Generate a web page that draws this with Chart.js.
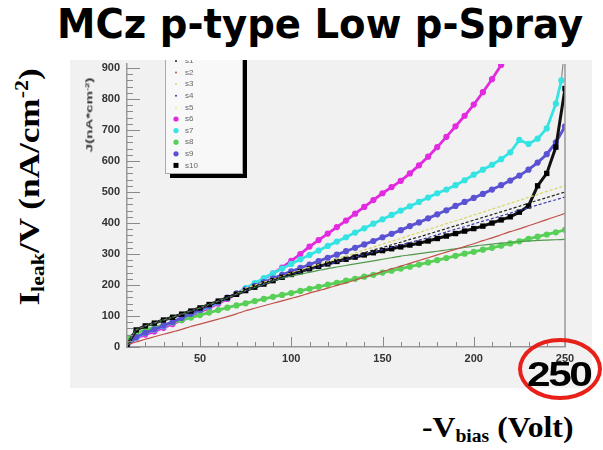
<!DOCTYPE html>
<html>
<head>
<meta charset="utf-8">
<script src="https://cdn.jsdelivr.net/npm/chart.js@4/dist/chart.umd.min.js"></script>
<style>
  body { margin: 0; background: #fff; width: 603px; height: 450px; position: relative; overflow: hidden; }
  #panel { position: absolute; left: 70px; top: 60px; width: 522px; height: 328px; background: #f1f1f1; }
  .lbl { position: absolute; white-space: nowrap; }
  #title { left: 57px; top: 4px; font: bold 41px "DejaVu Sans", sans-serif; line-height: 41px; transform-origin: 0 0; }
  #ylab { left: 30px; top: 187px; font: bold 30px "Liberation Serif", serif; line-height: 30px; }
  #xlab { left: 422px; top: 412px; font: bold 30px "Liberation Serif", serif; line-height: 30px; transform-origin: 0 0; }
  #jlab { left: 89px; top: 115px; font: bold 9px "Liberation Sans", sans-serif; line-height: 9px; color: #333; }
  sub { font-size: 0.62em; vertical-align: -0.25em; }
  sup { font-size: 0.62em; vertical-align: 0.6em; }
  #ring { position: absolute; left: 518px; top: 338px; width: 84px; height: 62px; box-sizing: border-box;
          border: 4px solid #e8201a; border-radius: 50%; }
  #big250 { left: 527px; top: 356px; font: bold 35px "Liberation Sans", sans-serif; line-height: 35px; letter-spacing: -2px; transform-origin: 0 0; }
</style>
</head>
<body>
<div id="panel"><canvas id="chart"></canvas></div>
<div id="title" class="lbl">MCz p-type Low p-Spray</div>
<div id="ylab" class="lbl">I<sub>leak</sub>/V (nA/cm<sup>-2</sup>)</div>
<div id="jlab" class="lbl">J(nA*cm<sup>-2</sup>)</div>
<div id="xlab" class="lbl">-V<sub>bias</sub> (Volt)</div>
<div id="ring"></div>
<div id="big250" class="lbl">250</div>
<script>
// bias voltage grid (V)
const volts = [10, 15, 20, 25, 30, 35, 40, 45, 50, 55, 60, 65, 70, 75, 80, 85, 90, 95, 100, 105,
  110, 115, 120, 125, 130, 135, 140, 145, 150, 155, 160, 165, 170, 175, 180, 185, 190, 195, 200, 205,
  210, 215, 220, 225, 230, 235, 240, 245, 250];
const s7Volts = [...volts.slice(0, 48), 248, 250];

const xTicks = [50, 100, 150, 200, 250];
const yTicks = [0, 100, 200, 300, 400, 500, 600, 700, 800, 900];

// J (nA/cm^2) per sample
const s1 = [5, 55, 68, 77, 87, 96, 106, 116, 126, 137, 148, 159, 170, 183, 194, 205, 215, 226, 236, 245,
  253, 262, 270, 279, 287, 296, 304, 313, 321, 330, 338, 347, 355, 364, 373, 382, 391, 400, 409, 418,
  427, 436, 445, 454, 464, 473, 482, 491, 500];
const s2 = [8, 16, 25, 33, 41, 49, 57, 66, 74, 82, 90, 98, 107, 117, 125, 133, 141, 149, 157, 165,
  174, 182, 190, 199, 207, 216, 225, 234, 243, 252, 261, 270, 279, 288, 297, 306, 315, 324, 333, 343,
  352, 362, 372, 381, 391, 401, 411, 421, 431];
const s3 = [5, 55, 68, 77, 87, 96, 106, 116, 126, 137, 148, 159, 170, 182, 193, 203, 213, 222, 229, 235,
  241, 247, 253, 258, 263, 268, 273, 278, 283, 288, 293, 297, 301, 305, 309, 313, 317, 321, 325, 329,
  332, 335, 338, 340, 342, 344, 345, 346, 347];
const s4 = [5, 55, 68, 77, 87, 96, 106, 116, 126, 137, 148, 159, 170, 182, 193, 203, 214, 224, 234, 242,
  250, 258, 266, 274, 282, 290, 298, 306, 314, 322, 330, 337, 345, 353, 362, 371, 380, 388, 397, 406,
  414, 423, 432, 441, 449, 458, 467, 475, 484];
const s5 = [5, 55, 68, 77, 87, 96, 106, 116, 126, 137, 148, 159, 171, 190, 199, 209, 218, 228, 239, 248,
  257, 266, 275, 284, 294, 303, 313, 322, 332, 341, 350, 360, 369, 379, 388, 398, 407, 416, 426, 435,
  445, 454, 464, 473, 483, 492, 502, 511, 521];
const s6 = [3, 28, 40, 50, 62, 74, 87, 100, 113, 126, 140, 155, 172, 188, 204, 220, 237, 256, 278, 300,
  324, 345, 366, 387, 408, 430, 452, 474, 496, 516, 536, 560, 586, 614, 645, 678, 712, 746, 782, 822,
  864, 910, 960];
const s7 = [3, 30, 45, 56, 67, 79, 92, 105, 118, 131, 144, 158, 172, 190, 206, 222, 238, 253, 268, 283,
  297, 311, 326, 340, 354, 369, 383, 398, 412, 426, 440, 454, 468, 482, 496, 508, 522, 538, 556, 572,
  588, 606, 628, 668, 655, 672, 705, 785, 860, 975];
const s8 = [30, 45, 55, 63, 71, 79, 87, 95, 103, 111, 119, 127, 134, 141, 148, 155, 162, 168, 174, 181,
  188, 194, 201, 207, 214, 220, 227, 233, 240, 246, 253, 259, 266, 273, 280, 287, 294, 301, 307, 314,
  320, 327, 334, 341, 349, 356, 363, 370, 378];
const s9 = [3, 32, 46, 57, 69, 81, 94, 107, 120, 133, 146, 159, 172, 185, 197, 209, 221, 233, 244, 255,
  266, 277, 288, 298, 309, 320, 331, 342, 354, 365, 377, 390, 402, 415, 428, 441, 455, 468, 481, 494,
  508, 522, 537, 553, 572, 595, 622, 660, 712];
const s10 = [5, 55, 68, 77, 87, 96, 106, 116, 126, 137, 148, 159, 170, 182, 193, 203, 214, 225, 234, 243,
  252, 260, 268, 276, 283, 290, 297, 304, 311, 317, 323, 329, 335, 342, 350, 358, 366, 374, 382, 390,
  400, 410, 420, 435, 455, 520, 560, 645, 834];

function pts(xs, ys) {
  return ys.map((y, i) => ({ x: xs[i], y: y }));
}

function thinLine(label, ys, color, dash, legendColor) {
  return {
    label: label, data: pts(volts, ys), borderColor: color, backgroundColor: legendColor || color,
    borderWidth: 1.2, borderDash: dash, pointRadius: 0, tension: 0.2
  };
}

function dotLine(label, xs, ys, color) {
  return {
    label: label, data: pts(xs, ys), borderColor: color, backgroundColor: color,
    borderWidth: 2.8, pointRadius: 3.1, pointBorderWidth: 0, pointStyle: 'circle'
  };
}

const cyan = dotLine('s7', s7Volts, s7, '#35e3e3');
cyan.pointRadius = ctx => ctx.dataIndex === s7.length - 1 ? 0 : 3.1;
cyan.segment = { borderColor: ctx => ctx.p1DataIndex === s7.length - 1 ? '#8a8a8a' : undefined,
                 borderWidth: ctx => ctx.p1DataIndex === s7.length - 1 ? 1.2 : undefined };

const blackSq = dotLine('s10', volts, s10, '#000');
blackSq.pointStyle = 'rect';
blackSq.pointRadius = 3.8;
blackSq.borderColor = '#111';
blackSq.borderWidth = 3;

const datasets = [
  thinLine('s1', s1, '#222', [3, 2]),
  thinLine('s2', s2, '#c0504a', []),
  thinLine('s3', s3, '#4f9a4a', [], '#b8e070'),
  thinLine('s4', s4, '#3a3aa8', [3, 2]),
  thinLine('s5', s5, '#d6d660', [3, 2], '#f0ea80'),
  dotLine('s6', volts, s6, '#e22ae0'),
  cyan,
  dotLine('s8', volts, s8, '#58d058'),
  dotLine('s9', volts, s9, '#5a52d2'),
  blackSq
];
// thin lines on top of the bead chains, as in the reference
const drawOrder = [9, 8, 7, 9, 9, 1, 2, 3, 4, 5];
datasets.forEach((d, i) => { d.order = -drawOrder[i]; });

// inner tick marks, right frame and boxed legend
const framePlugin = {
  id: 'frame',
  afterDatasetsDraw(chart) {
    const ctx = chart.ctx, a = chart.chartArea;
    const xs = chart.scales.x, ys = chart.scales.y;
    ctx.save();
    ctx.strokeStyle = '#8a8a8a';
    ctx.lineWidth = 1;
    ctx.beginPath();
    for (let v = 10; v <= 250; v += 10) {
      const px = Math.round(xs.getPixelForValue(v)) + 0.5;
      const len = v % 50 === 0 ? 10 : 5;
      ctx.moveTo(px, a.bottom); ctx.lineTo(px, a.bottom - len);
    }
    for (let v = 0; v <= 900; v += 20) {
      const py = Math.round(ys.getPixelForValue(v)) + 0.5;
      const len = v % 100 === 0 ? 13 : 6;
      ctx.moveTo(a.left, py); ctx.lineTo(a.left + len, py);
    }
    ctx.stroke();
    ctx.strokeStyle = '#999';
    ctx.lineWidth = 1.5;
    ctx.beginPath();
    ctx.moveTo(a.right, a.top); ctx.lineTo(a.right, a.bottom);
    ctx.stroke();

    // legend box
    const bx = 95, by = -10, bw = 77, bh = 123;
    ctx.fillStyle = '#000';
    ctx.fillRect(bx + 5, by + 5, bw, bh);
    ctx.fillStyle = '#f8f8f8';
    ctx.fillRect(bx, by, bw, bh);
    ctx.strokeStyle = '#aaa';
    ctx.lineWidth = 1;
    ctx.strokeRect(bx + 0.5, by + 0.5, bw, bh);
    ctx.font = '8px "Liberation Sans", sans-serif';
    ctx.textBaseline = 'middle';
    chart.data.datasets.forEach((d, i) => {
      const yy = 1 + i * 11.6, mx = 106;
      ctx.fillStyle = d.backgroundColor;
      ctx.beginPath();
      if (d.pointStyle === 'rect') {
        ctx.rect(mx - 2.5, yy - 2.5, 5, 5);
      } else {
        ctx.arc(mx, yy, i < 5 ? 1 : 2.6, 0, Math.PI * 2);
      }
      ctx.fill();
      ctx.fillStyle = '#666';
      ctx.fillText(d.label, 115, yy);
    });
    ctx.restore();
  }
};

new Chart(document.getElementById('chart'), {
  type: 'line',
  data: { datasets: datasets },
  options: {
    responsive: true,
    maintainAspectRatio: false,
    animation: false,
    layout: { padding: { left: 0, right: 27, top: 0, bottom: 0 } },
    plugins: { legend: { display: false }, tooltip: { enabled: false } },
    scales: {
      x: {
        type: 'linear', min: 10, max: 250,
        afterBuildTicks: s => { s.ticks = xTicks.map(v => ({ value: v })); },
        afterFit: s => { s.height = 41; s.paddingLeft = 0; s.paddingRight = 0; },
        grid: { display: false, drawTicks: false },
        border: { display: true, color: '#999', width: 1.5 },
        ticks: { padding: 5, color: '#333', font: { family: 'Liberation Sans', size: 11, weight: 'bold' } }
      },
      y: {
        type: 'linear', min: 0, max: 913,
        afterBuildTicks: s => { s.ticks = yTicks.map(v => ({ value: v })); },
        afterFit: s => { s.width = 57; s.paddingTop = 0; s.paddingBottom = 0; },
        grid: { display: false, drawTicks: false },
        border: { display: true, color: '#999', width: 1.5 },
        ticks: { padding: 7, color: '#333', font: { family: 'Liberation Sans', size: 11, weight: 'bold' } }
      }
    }
  },
  plugins: [framePlugin]
});

// stretch the loose labels to the widths they have in the picture
function fit(id, width, rotate) {
  const el = document.getElementById(id);
  const k = width / el.offsetWidth;
  if (rotate) {
    el.style.transform = 'translate(-50%, -50%) rotate(-90deg) scaleX(' + k + ')';
  } else {
    el.style.transform = 'scaleX(' + k + ')';
  }
}
fit('title', 526, false);
fit('ylab', 237, true);
fit('jlab', 74, true);
fit('xlab', 151, false);
fit('big250', 63, false);
</script>
</body>
</html>
